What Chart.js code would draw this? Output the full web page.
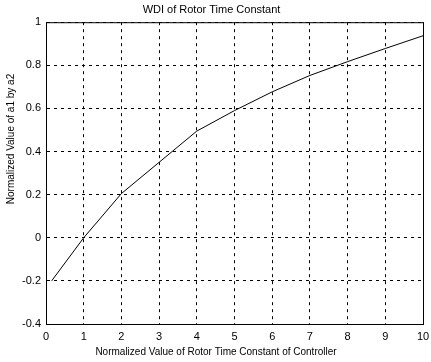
<!DOCTYPE html>
<html>
<head>
<meta charset="utf-8">
<script src="https://cdn.jsdelivr.net/npm/chart.js@4"></script>
<style>
  html, body { margin: 0; padding: 0; background: #fff; }
  #wrap { width: 431px; height: 362px; }
</style>
</head>
<body>
<div id="wrap"><canvas id="myChart"></canvas></div>
<script>
// values
const rotorTc = [0.15, 1, 2, 3, 4, 5, 6, 7, 8, 9, 10];
const a1ByA2 = [-0.2, 0, 0.205, 0.35, 0.495, 0.59, 0.677, 0.753, 0.817, 0.878, 0.937];

const yTickValues = [-0.4, -0.2, 0, 0.2, 0.4, 0.6, 0.8, 1];
const yTickLabels = ["-0.4", "-0.2", "0", "0.2", "0.4", "0.6", "0.8", "1"];

const titleText = "WDI of Rotor Time Constant";
const xLabel = "Normalized Value of Rotor Time Constant of Controller";
const yLabel = "Normalized Value of a1 by a2";

const font = "'Liberation Sans', Arial, sans-serif";

// axis labels + solid frame (matlab style)
const frame = {
    id: "frame",
    afterDraw(chart){
        const ctx = chart.ctx;
        const a = chart.chartArea;
        ctx.save();
        ctx.strokeStyle = "#000";
        ctx.lineWidth = 1;
        ctx.setLineDash([]);
        ctx.strokeRect(a.left + 0.5, a.top + 0.5, a.right - a.left, a.bottom - a.top);

        ctx.fillStyle = "#000";
        ctx.font = "10px " + font;
        ctx.textAlign = "center";
        ctx.textBaseline = "middle";
        ctx.fillText(xLabel, 216, 352);

        ctx.translate(11, 139);
        ctx.rotate(-Math.PI/2);
        ctx.fillText(yLabel, 0, 0);
        ctx.restore();
    }
};

const points = rotorTc.map((x, i) => ({x: x, y: a1ByA2[i]}));

new Chart(document.getElementById("myChart"), {
    type: "line",
    data: {
        datasets: [{
            data: points,
            borderColor: "#000",
            borderWidth: 1,
            pointRadius: 0,
            tension: 0,
            fill: false
        }]
    },
    options: {
        responsive: true,
        maintainAspectRatio: false,
        animation: false,
        layout: { padding: { left: 0, right: 8, top: 0, bottom: 0 } },
        plugins: {
            legend: { display: false },
            tooltip: { enabled: false },
            title: {
                display: true,
                text: titleText,
                color: "#000",
                font: { family: font, size: 11, weight: "normal" },
                padding: { top: 3, bottom: 6 }
            }
        },
        scales: {
            x: {
                type: "linear",
                min: 0,
                max: 10,
                afterFit(scale){
                    scale.height = 38;
                    scale.paddingLeft = 0;
                    scale.paddingRight = 0;
                },
                ticks: {
                    stepSize: 1,
                    color: "#000",
                    padding: 6,
                    maxRotation: 0,
                    font: { family: font, size: 11 }
                },
                grid: { color: "#000", lineWidth: 1, drawTicks: false },
                border: { display: true, color: "#000", dash: [3, 4] }
            },
            y: {
                min: -0.4,
                max: 1,
                afterFit(scale){ scale.width = 46; },
                afterBuildTicks(scale){
                    scale.ticks = yTickValues.map(v => ({value: v}));
                },
                ticks: {
                    color: "#000",
                    padding: 5,
                    font: { family: font, size: 11 },
                    callback: (v, i) => yTickLabels[i]
                },
                grid: { color: "#000", lineWidth: 1, drawTicks: false },
                border: { display: true, color: "#000", dash: [3, 4] }
            }
        }
    },
    plugins: [frame]
});
</script>
</body>
</html>
